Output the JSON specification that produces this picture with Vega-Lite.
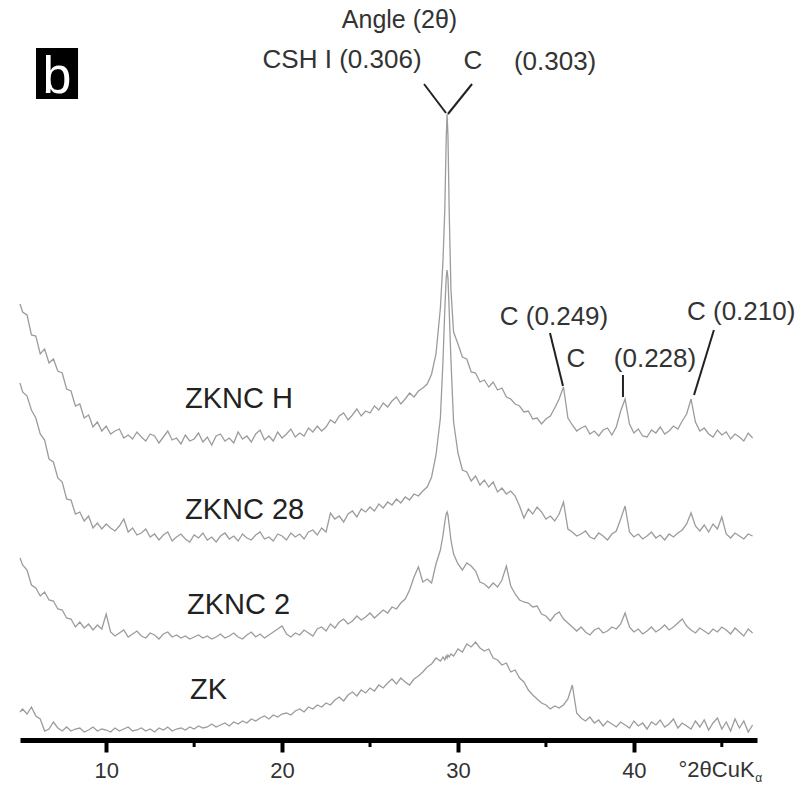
{
  "$schema": "https://vega.github.io/schema/vega-lite/v6.json",
  "autosize": "none",
  "width": 737,
  "height": 695,
  "padding": {"left": 20, "top": 45, "right": 44, "bottom": 53},
  "background": "white",
  "title": {"text": "Angle (2θ)", "fontSize": 25, "font": "Liberation Sans", "fontWeight": "normal", "color": "#333", "offset": 12, "anchor": "middle", "dx": 11},
  "config": {"view": {"stroke": null}},
  "data": {"values": [
    {"x":5.1,"H":436,"N28":357,"N2":182,"ZK":28},
    {"x":5.25,"H":428,"N28":348,"N2":175,"ZK":31},
    {"x":5.5,"H":425,"N28":344,"N2":170,"ZK":26},
    {"x":5.75,"H":405,"N28":330,"N2":155,"ZK":33},
    {"x":6.0,"H":404,"N28":322,"N2":152,"ZK":24},
    {"x":6.25,"H":386,"N28":306,"N2":144,"ZK":21},
    {"x":6.5,"H":391,"N28":300,"N2":148,"ZK":9},
    {"x":6.75,"H":377,"N28":281,"N2":140,"ZK":11},
    {"x":7.0,"H":381,"N28":278,"N2":139,"ZK":18},
    {"x":7.25,"H":369,"N28":262,"N2":131,"ZK":12},
    {"x":7.5,"H":367,"N28":258,"N2":130,"ZK":9},
    {"x":7.75,"H":351,"N28":241,"N2":122,"ZK":13},
    {"x":8.0,"H":349,"N28":240,"N2":121,"ZK":9},
    {"x":8.25,"H":334,"N28":226,"N2":113,"ZK":11},
    {"x":8.5,"H":336,"N28":228,"N2":118,"ZK":12},
    {"x":8.75,"H":322,"N28":219,"N2":112,"ZK":8},
    {"x":9.0,"H":325,"N28":224,"N2":116,"ZK":10},
    {"x":9.25,"H":313,"N28":212,"N2":110,"ZK":13},
    {"x":9.5,"H":318,"N28":217,"N2":115,"ZK":9},
    {"x":9.75,"H":309,"N28":211,"N2":111,"ZK":11},
    {"x":10.0,"H":314,"N28":216,"N2":126,"ZK":10},
    {"x":10.25,"H":306,"N28":212,"N2":108,"ZK":8},
    {"x":10.5,"H":309,"N28":209,"N2":104,"ZK":12},
    {"x":10.75,"H":311,"N28":214,"N2":107,"ZK":9},
    {"x":11.0,"H":302,"N28":221,"N2":110,"ZK":11},
    {"x":11.25,"H":305,"N28":208,"N2":103,"ZK":13},
    {"x":11.5,"H":301,"N28":212,"N2":106,"ZK":9},
    {"x":11.75,"H":308,"N28":205,"N2":109,"ZK":10},
    {"x":12.0,"H":303,"N28":207,"N2":104,"ZK":12},
    {"x":12.25,"H":299,"N28":211,"N2":102,"ZK":9},
    {"x":12.5,"H":306,"N28":203,"N2":107,"ZK":11},
    {"x":12.75,"H":304,"N28":206,"N2":105,"ZK":8},
    {"x":13.0,"H":297,"N28":200,"N2":101,"ZK":12},
    {"x":13.25,"H":303,"N28":205,"N2":106,"ZK":10},
    {"x":13.5,"H":309,"N28":208,"N2":108,"ZK":13},
    {"x":13.75,"H":300,"N28":199,"N2":103,"ZK":9},
    {"x":14.0,"H":302,"N28":203,"N2":105,"ZK":11},
    {"x":14.25,"H":296,"N28":206,"N2":102,"ZK":12},
    {"x":14.5,"H":305,"N28":201,"N2":104,"ZK":10},
    {"x":14.75,"H":299,"N28":198,"N2":101,"ZK":13},
    {"x":15.0,"H":301,"N28":205,"N2":103,"ZK":11},
    {"x":15.25,"H":307,"N28":202,"N2":105,"ZK":14},
    {"x":15.5,"H":298,"N28":207,"N2":102,"ZK":12},
    {"x":15.75,"H":303,"N28":200,"N2":104,"ZK":13},
    {"x":16.0,"H":295,"N28":203,"N2":101,"ZK":16},
    {"x":16.25,"H":304,"N28":198,"N2":103,"ZK":13},
    {"x":16.5,"H":306,"N28":204,"N2":106,"ZK":15},
    {"x":16.75,"H":299,"N28":207,"N2":102,"ZK":17},
    {"x":17.0,"H":302,"N28":201,"N2":104,"ZK":14},
    {"x":17.25,"H":297,"N28":204,"N2":107,"ZK":18},
    {"x":17.5,"H":308,"N28":199,"N2":103,"ZK":16},
    {"x":17.75,"H":301,"N28":206,"N2":101,"ZK":19},
    {"x":18.0,"H":304,"N28":202,"N2":105,"ZK":17},
    {"x":18.25,"H":298,"N28":200,"N2":108,"ZK":21},
    {"x":18.5,"H":306,"N28":205,"N2":103,"ZK":19},
    {"x":18.75,"H":310,"N28":208,"N2":106,"ZK":22},
    {"x":19.0,"H":300,"N28":201,"N2":102,"ZK":24},
    {"x":19.25,"H":304,"N28":203,"N2":105,"ZK":21},
    {"x":19.5,"H":299,"N28":199,"N2":108,"ZK":25},
    {"x":19.75,"H":308,"N28":206,"N2":111,"ZK":23},
    {"x":20.0,"H":302,"N28":204,"N2":114,"ZK":26},
    {"x":20.25,"H":306,"N28":200,"N2":106,"ZK":27},
    {"x":20.5,"H":311,"N28":207,"N2":103,"ZK":25},
    {"x":20.75,"H":303,"N28":203,"N2":107,"ZK":29},
    {"x":21.0,"H":307,"N28":206,"N2":105,"ZK":31},
    {"x":21.25,"H":304,"N28":201,"N2":110,"ZK":28},
    {"x":21.5,"H":312,"N28":208,"N2":107,"ZK":33},
    {"x":21.75,"H":308,"N28":210,"N2":104,"ZK":31},
    {"x":22.0,"H":314,"N28":205,"N2":111,"ZK":35},
    {"x":22.25,"H":309,"N28":212,"N2":113,"ZK":33},
    {"x":22.5,"H":313,"N28":208,"N2":109,"ZK":37},
    {"x":22.75,"H":320,"N28":227,"N2":116,"ZK":35},
    {"x":23.0,"H":317,"N28":221,"N2":112,"ZK":40},
    {"x":23.25,"H":324,"N28":224,"N2":118,"ZK":43},
    {"x":23.5,"H":327,"N28":218,"N2":121,"ZK":39},
    {"x":23.75,"H":320,"N28":226,"N2":116,"ZK":45},
    {"x":24.0,"H":325,"N28":229,"N2":119,"ZK":48},
    {"x":24.25,"H":331,"N28":223,"N2":124,"ZK":44},
    {"x":24.5,"H":324,"N28":231,"N2":120,"ZK":50},
    {"x":24.75,"H":329,"N28":228,"N2":123,"ZK":47},
    {"x":25.0,"H":327,"N28":233,"N2":127,"ZK":52},
    {"x":25.25,"H":334,"N28":229,"N2":122,"ZK":49},
    {"x":25.5,"H":330,"N28":236,"N2":126,"ZK":55},
    {"x":25.75,"H":337,"N28":232,"N2":130,"ZK":52},
    {"x":26.0,"H":333,"N28":238,"N2":127,"ZK":57},
    {"x":26.25,"H":339,"N28":235,"N2":133,"ZK":61},
    {"x":26.5,"H":343,"N28":241,"N2":131,"ZK":56},
    {"x":26.75,"H":336,"N28":237,"N2":137,"ZK":62},
    {"x":27.0,"H":341,"N28":243,"N2":141,"ZK":58},
    {"x":27.25,"H":347,"N28":240,"N2":150,"ZK":55},
    {"x":27.5,"H":343,"N28":246,"N2":163,"ZK":61},
    {"x":27.75,"H":349,"N28":244,"N2":173,"ZK":64},
    {"x":28.0,"H":352,"N28":249,"N2":158,"ZK":68},
    {"x":28.25,"H":356,"N28":253,"N2":161,"ZK":73},
    {"x":28.5,"H":366,"N28":263,"N2":157,"ZK":76},
    {"x":28.75,"H":386,"N28":285,"N2":176,"ZK":82},
    {"x":29.0,"H":432,"N28":322,"N2":190,"ZK":79},
    {"x":29.15,"H":480,"N28":380,"N2":205,"ZK":83},
    {"x":29.25,"H":530,"N28":430,"N2":218,"ZK":80},
    {"x":29.33,"H":600,"N28":462,"N2":226,"ZK":84},
    {"x":29.38,"H":626,"N28":470,"N2":228,"ZK":82},
    {"x":29.43,"H":605,"N28":462,"N2":225,"ZK":85},
    {"x":29.5,"H":530,"N28":430,"N2":215,"ZK":83},
    {"x":29.6,"H":450,"N28":380,"N2":200,"ZK":86},
    {"x":29.75,"H":408,"N28":318,"N2":186,"ZK":84},
    {"x":30.0,"H":396,"N28":287,"N2":176,"ZK":91},
    {"x":30.25,"H":383,"N28":270,"N2":170,"ZK":88},
    {"x":30.5,"H":381,"N28":268,"N2":177,"ZK":96},
    {"x":30.75,"H":368,"N28":259,"N2":174,"ZK":93},
    {"x":31.0,"H":367,"N28":264,"N2":169,"ZK":98},
    {"x":31.25,"H":358,"N28":255,"N2":158,"ZK":92},
    {"x":31.5,"H":360,"N28":260,"N2":156,"ZK":89},
    {"x":31.75,"H":353,"N28":253,"N2":152,"ZK":91},
    {"x":32.0,"H":358,"N28":258,"N2":157,"ZK":82},
    {"x":32.25,"H":350,"N28":248,"N2":153,"ZK":80},
    {"x":32.5,"H":352,"N28":252,"N2":160,"ZK":75},
    {"x":32.75,"H":343,"N28":246,"N2":174,"ZK":77},
    {"x":33.0,"H":341,"N28":249,"N2":154,"ZK":68},
    {"x":33.25,"H":336,"N28":244,"N2":146,"ZK":70},
    {"x":33.5,"H":334,"N28":234,"N2":140,"ZK":62},
    {"x":33.75,"H":328,"N28":222,"N2":138,"ZK":58},
    {"x":34.0,"H":329,"N28":231,"N2":137,"ZK":50},
    {"x":34.25,"H":321,"N28":226,"N2":133,"ZK":45},
    {"x":34.5,"H":322,"N28":233,"N2":134,"ZK":41},
    {"x":34.75,"H":316,"N28":228,"N2":126,"ZK":37},
    {"x":35.0,"H":321,"N28":221,"N2":124,"ZK":35},
    {"x":35.25,"H":324,"N28":224,"N2":119,"ZK":31},
    {"x":35.5,"H":332,"N28":219,"N2":125,"ZK":34},
    {"x":35.75,"H":341,"N28":226,"N2":128,"ZK":32},
    {"x":36.0,"H":353,"N28":238,"N2":121,"ZK":35},
    {"x":36.25,"H":322,"N28":211,"N2":117,"ZK":41},
    {"x":36.5,"H":315,"N28":208,"N2":113,"ZK":55},
    {"x":36.75,"H":309,"N28":204,"N2":109,"ZK":27},
    {"x":37.0,"H":312,"N28":206,"N2":113,"ZK":22},
    {"x":37.25,"H":314,"N28":209,"N2":108,"ZK":19},
    {"x":37.5,"H":306,"N28":203,"N2":105,"ZK":23},
    {"x":37.75,"H":309,"N28":201,"N2":110,"ZK":17},
    {"x":38.0,"H":304,"N28":207,"N2":112,"ZK":20},
    {"x":38.25,"H":310,"N28":204,"N2":107,"ZK":14},
    {"x":38.5,"H":312,"N28":200,"N2":109,"ZK":19},
    {"x":38.75,"H":305,"N28":206,"N2":113,"ZK":16},
    {"x":39.0,"H":313,"N28":209,"N2":111,"ZK":13},
    {"x":39.25,"H":329,"N28":221,"N2":116,"ZK":18},
    {"x":39.5,"H":341,"N28":234,"N2":127,"ZK":15},
    {"x":39.75,"H":316,"N28":208,"N2":113,"ZK":12},
    {"x":40.0,"H":307,"N28":203,"N2":108,"ZK":19},
    {"x":40.25,"H":311,"N28":206,"N2":111,"ZK":14},
    {"x":40.5,"H":304,"N28":201,"N2":106,"ZK":17},
    {"x":40.75,"H":303,"N28":204,"N2":109,"ZK":11},
    {"x":41.0,"H":310,"N28":208,"N2":113,"ZK":18},
    {"x":41.25,"H":307,"N28":202,"N2":108,"ZK":15},
    {"x":41.5,"H":313,"N28":205,"N2":111,"ZK":20},
    {"x":41.75,"H":306,"N28":200,"N2":115,"ZK":13},
    {"x":42.0,"H":309,"N28":206,"N2":110,"ZK":16},
    {"x":42.25,"H":314,"N28":203,"N2":113,"ZK":21},
    {"x":42.5,"H":311,"N28":207,"N2":117,"ZK":12},
    {"x":42.75,"H":319,"N28":210,"N2":121,"ZK":17},
    {"x":43.0,"H":326,"N28":216,"N2":114,"ZK":14},
    {"x":43.25,"H":341,"N28":227,"N2":110,"ZK":11},
    {"x":43.5,"H":318,"N28":214,"N2":107,"ZK":19},
    {"x":43.75,"H":309,"N28":209,"N2":112,"ZK":13},
    {"x":44.0,"H":312,"N28":215,"N2":109,"ZK":20},
    {"x":44.25,"H":306,"N28":208,"N2":106,"ZK":10},
    {"x":44.5,"H":303,"N28":216,"N2":111,"ZK":17},
    {"x":44.75,"H":310,"N28":211,"N2":108,"ZK":22},
    {"x":45.0,"H":305,"N28":223,"N2":113,"ZK":11},
    {"x":45.25,"H":308,"N28":206,"N2":110,"ZK":18},
    {"x":45.5,"H":301,"N28":202,"N2":106,"ZK":9},
    {"x":45.75,"H":306,"N28":207,"N2":112,"ZK":21},
    {"x":46.0,"H":303,"N28":204,"N2":108,"ZK":12},
    {"x":46.25,"H":299,"N28":201,"N2":104,"ZK":19},
    {"x":46.5,"H":307,"N28":206,"N2":111,"ZK":8},
    {"x":46.75,"H":302,"N28":204,"N2":107,"ZK":15}
  ]},
  "encoding": {
    "x": {"field": "x", "type": "quantitative",
      "scale": {"domain": [5.1, 47], "nice": false, "zero": false},
      "axis": {"values": [10, 20, 30, 40], "format": "d", "grid": false,
        "domainWidth": 5, "domainColor": "#000", "tickColor": "#000", "tickWidth": 4, "tickSize": 12,
        "labelFontSize": 22, "labelFont": "Liberation Sans", "labelColor": "#333", "labelPadding": 8,
        "title": "°2θCuK", "titleFont": "Liberation Sans", "titleFontSize": 22, "titleFontWeight": "normal", "titleColor": "#333",
        "titleAlign": "left", "titleBaseline": "middle", "titleX": 658, "titleY": 29, "titleAngle": 0}},
    "y": {"field": "y", "type": "quantitative", "scale": {"domain": [0, 695], "nice": false, "zero": false}, "axis": null}
  },
  "layer": [
    {
      "transform": [{"fold": ["H", "N28", "N2", "ZK"], "as": ["s", "y"]}],
      "mark": {"type": "line", "color": "#9c9c9c", "strokeWidth": 1.3},
      "encoding": {"detail": {"field": "s"}}
    },
    {
      "data": {"values": [{"x": 15, "y": 0, "y2": -7}, {"x": 25, "y": 0, "y2": -7}, {"x": 35, "y": 0, "y2": -7}, {"x": 45, "y": 0, "y2": -7}]},
      "mark": {"type": "rule", "color": "#000", "strokeWidth": 3},
      "encoding": {"y2": {"field": "y2"}}
    },
    {
      "data": {"values": [
        {"x": 28.07, "y": 656, "x2": 29.32, "y2": 627},
        {"x": 30.8, "y": 656, "x2": 29.43, "y2": 626},
        {"x": 35.23, "y": 407, "x2": 35.97, "y2": 354},
        {"x": 39.38, "y": 365, "x2": 39.38, "y2": 343},
        {"x": 44.55, "y": 410, "x2": 43.42, "y2": 345}
      ]},
      "mark": {"type": "rule", "color": "#222", "strokeWidth": 2},
      "encoding": {"x2": {"field": "x2"}, "y2": {"field": "y2"}}
    },
    {
      "data": {"values": [
        {"x": 23.41, "y": 680, "t": "CSH I (0.306)"},
        {"x": 30.85, "y": 679, "t": "C"},
        {"x": 35.52, "y": 678, "t": "(0.303)"},
        {"x": 35.46, "y": 423, "t": "C (0.249)"},
        {"x": 36.71, "y": 381, "t": "C"},
        {"x": 41.2, "y": 381, "t": "(0.228)"}
      ]},
      "mark": {"type": "text", "font": "Liberation Sans", "fontSize": 26, "color": "#333", "align": "center", "baseline": "middle"},
      "encoding": {"text": {"field": "t"}}
    },
    {
      "data": {"values": [{"x": 43.02, "y": 428, "t": "C (0.210)"}]},
      "mark": {"type": "text", "font": "Liberation Sans", "fontSize": 26, "color": "#333", "align": "left", "baseline": "middle"},
      "encoding": {"text": {"field": "t"}}
    },
    {
      "data": {"values": [
        {"x": 14.48, "y": 341, "t": "ZKNC H"},
        {"x": 14.48, "y": 230, "t": "ZKNC 28"},
        {"x": 14.59, "y": 135, "t": "ZKNC 2"},
        {"x": 14.76, "y": 50, "t": "ZK"}
      ]},
      "mark": {"type": "text", "font": "Liberation Sans", "fontSize": 29, "color": "#222", "align": "left", "baseline": "middle"},
      "encoding": {"text": {"field": "t"}}
    },
    {
      "data": {"values": [{"x": 6.01, "x2": 8.4, "y": 692, "y2": 641}]},
      "mark": {"type": "rect", "color": "#000"},
      "encoding": {"x2": {"field": "x2"}, "y2": {"field": "y2"}}
    },
    {
      "data": {"values": [{"x": 7.2, "y": 647, "t": "b"}]},
      "mark": {"type": "text", "font": "Liberation Sans", "fontSize": 52, "color": "#fff", "align": "center", "baseline": "alphabetic"},
      "encoding": {"text": {"field": "t"}}
    },
    {
      "data": {"values": [{"x": 46.9, "y": -38, "t": "α"}]},
      "mark": {"type": "text", "font": "Liberation Sans", "fontSize": 12, "color": "#333", "align": "left", "baseline": "middle"},
      "encoding": {"text": {"field": "t"}}
    }
  ]
}
